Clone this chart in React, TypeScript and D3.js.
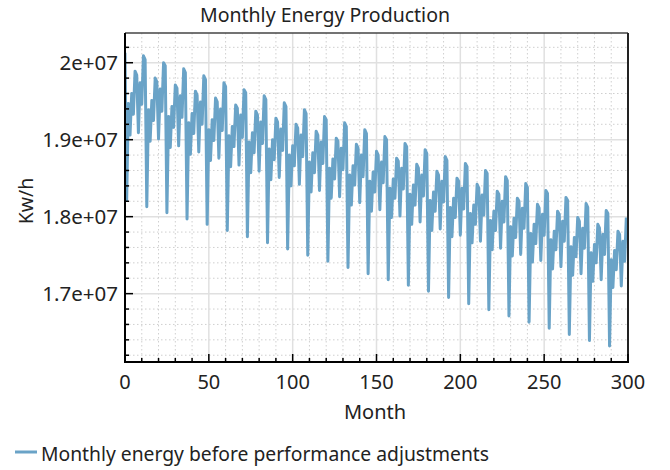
import React, { useEffect, useRef } from 'react';
import * as d3 from 'd3';

// monthly energy in millions of kWh, one row per year (Jan..Dec), 25 years
const energyMillions = [
  20.13, 18.21, 19.47, 19.06, 19.60, 19.33, 19.89, 19.84, 19.09, 19.74, 19.46, 20.09,
  20.04, 18.13, 19.39, 18.98, 19.51, 19.25, 19.80, 19.75, 19.01, 19.66, 19.37, 20.00,
  19.96, 18.05, 19.30, 18.90, 19.43, 19.16, 19.71, 19.67, 18.92, 19.57, 19.29, 19.92,
  19.87, 17.97, 19.22, 18.81, 19.34, 19.08, 19.63, 19.58, 18.84, 19.49, 19.20, 19.83,
  19.78, 17.90, 19.13, 18.73, 19.26, 18.99, 19.54, 19.49, 18.76, 19.40, 19.12, 19.74,
  19.69, 17.82, 19.05, 18.65, 19.17, 18.91, 19.45, 19.41, 18.67, 19.32, 19.03, 19.65,
  19.61, 17.74, 18.97, 18.57, 19.09, 18.83, 19.37, 19.32, 18.59, 19.23, 18.95, 19.57,
  19.52, 17.66, 18.88, 18.48, 19.00, 18.74, 19.28, 19.23, 18.51, 19.14, 18.86, 19.48,
  19.43, 17.58, 18.80, 18.40, 18.92, 18.66, 19.20, 19.15, 18.42, 19.06, 18.78, 19.39,
  19.34, 17.50, 18.71, 18.32, 18.83, 18.57, 19.11, 19.06, 18.34, 18.97, 18.69, 19.30,
  19.26, 17.42, 18.63, 18.24, 18.75, 18.49, 19.02, 18.98, 18.26, 18.89, 18.61, 19.22,
  19.17, 17.34, 18.54, 18.15, 18.66, 18.41, 18.94, 18.89, 18.18, 18.80, 18.52, 19.13,
  19.08, 17.26, 18.46, 18.07, 18.58, 18.32, 18.85, 18.80, 18.09, 18.71, 18.44, 19.04,
  19.00, 17.18, 18.37, 17.99, 18.49, 18.24, 18.76, 18.72, 18.01, 18.63, 18.36, 18.95,
  18.91, 17.11, 18.29, 17.90, 18.41, 18.15, 18.68, 18.63, 17.93, 18.54, 18.27, 18.87,
  18.82, 17.03, 18.21, 17.82, 18.32, 18.07, 18.59, 18.54, 17.84, 18.46, 18.19, 18.78,
  18.73, 16.95, 18.12, 17.74, 18.24, 17.99, 18.50, 18.46, 17.76, 18.37, 18.10, 18.69,
  18.65, 16.87, 18.04, 17.66, 18.15, 17.90, 18.42, 18.37, 17.68, 18.28, 18.02, 18.60,
  18.56, 16.79, 17.95, 17.57, 18.07, 17.82, 18.33, 18.29, 17.59, 18.20, 17.93, 18.52,
  18.47, 16.71, 17.87, 17.49, 17.98, 17.73, 18.24, 18.20, 17.51, 18.11, 17.85, 18.43,
  18.38, 16.63, 17.78, 17.41, 17.90, 17.65, 18.16, 18.11, 17.43, 18.03, 17.76, 18.34,
  18.30, 16.55, 17.70, 17.32, 17.81, 17.57, 18.07, 18.03, 17.35, 17.94, 17.68, 18.25,
  18.21, 16.47, 17.61, 17.24, 17.73, 17.48, 17.99, 17.94, 17.26, 17.85, 17.59, 18.17,
  18.12, 16.39, 17.53, 17.16, 17.64, 17.40, 17.90, 17.85, 17.18, 17.77, 17.51, 18.08,
  18.04, 16.32, 17.44, 17.08, 17.56, 17.31, 17.81, 17.77, 17.10, 17.68, 17.42, 17.99,
];

const xTicks = [0, 50, 100, 150, 200, 250, 300];
const yTicks = [1.7e7, 1.8e7, 1.9e7, 2e7];
const yTickLabels = ['1.7e+07', '1.8e+07', '1.9e+07', '2e+07'];

const title = 'Monthly Energy Production';
const xTitle = 'Month';
const yTitle = 'Kw/h';
const seriesName = 'Monthly energy before performance adjustments';

const App: React.FC = () => {
  const ref = useRef<SVGSVGElement | null>(null);

  useEffect(() => {
    if (!ref.current) return;
    const width = 670;
    const height = 470;
    const left = 125, right = 628, top = 33, bottom = 362;
    const font = "'Noto Sans', sans-serif";
    const textColor = '#222';
    const lineColor = '#6aa3c7';

    const svg = d3.select(ref.current);
    svg.selectAll('*').remove();
    svg.attr('width', width).attr('height', height);

    const data = energyMillions.map((v, i) => ({ month: i, value: v * 1e6 }));

    const x = d3.scaleLinear().domain([0, 300]).range([left, right]);
    const y = d3.scaleLinear().domain([16.112e6, 20.386e6]).range([bottom, top]);

    svg.append('rect')
      .attr('x', 0).attr('y', 0).attr('width', width).attr('height', height)
      .attr('fill', '#fff');

    // grid
    const grid = svg.append('g');
    const xMinor = d3.range(10, 300, 10).filter(v => v % 50 !== 0);
    const yMinor = d3.range(16.2e6, 20.3e6, 2e5).filter(v => Math.round(v / 1e5) % 10 !== 0);

    grid.selectAll('line.xm').data(xMinor).enter().append('line')
      .attr('x1', d => x(d)).attr('x2', d => x(d)).attr('y1', top).attr('y2', bottom)
      .attr('stroke', '#cfcfcf').attr('stroke-dasharray', '1.5,2.5');
    grid.selectAll('line.ym').data(yMinor).enter().append('line')
      .attr('x1', left).attr('x2', right).attr('y1', d => y(d)).attr('y2', d => y(d))
      .attr('stroke', '#cfcfcf').attr('stroke-dasharray', '1.5,2.5');
    grid.selectAll('line.xM').data(xTicks.slice(1, -1)).enter().append('line')
      .attr('x1', d => x(d)).attr('x2', d => x(d)).attr('y1', top).attr('y2', bottom)
      .attr('stroke', '#e0e0e0').attr('stroke-width', 1.5);
    grid.selectAll('line.yM').data(yTicks).enter().append('line')
      .attr('x1', left).attr('x2', right).attr('y1', d => y(d)).attr('y2', d => y(d))
      .attr('stroke', '#e0e0e0').attr('stroke-width', 1.5);

    // clip + line
    svg.append('clipPath').attr('id', 'plotClip')
      .append('rect').attr('x', left).attr('y', top)
      .attr('width', right - left).attr('height', bottom - top);

    const line = d3.line<{ month: number; value: number }>()
      .x(d => x(d.month))
      .y(d => y(d.value));

    svg.append('path')
      .datum(data)
      .attr('clip-path', 'url(#plotClip)')
      .attr('d', line)
      .attr('fill', 'none')
      .attr('stroke', lineColor)
      .attr('stroke-width', 3)
      .attr('stroke-linejoin', 'round');

    // frame
    svg.append('line').attr('x1', left).attr('x2', right).attr('y1', top).attr('y2', top)
      .attr('stroke', '#444').attr('stroke-width', 1.5);
    svg.append('line').attr('x1', right).attr('x2', right).attr('y1', top).attr('y2', bottom)
      .attr('stroke', '#222').attr('stroke-width', 2);
    svg.append('line').attr('x1', left).attr('x2', left).attr('y1', top).attr('y2', bottom + 1)
      .attr('stroke', '#000').attr('stroke-width', 2);
    svg.append('line').attr('x1', left - 1).attr('x2', right + 1).attr('y1', bottom).attr('y2', bottom)
      .attr('stroke', '#000').attr('stroke-width', 2);

    // ticks (inside)
    const ticks = svg.append('g').attr('stroke', '#000').attr('stroke-width', 1.5);
    ticks.selectAll('line.xt').data(d3.range(0, 301, 10)).enter().append('line')
      .attr('x1', d => x(d)).attr('x2', d => x(d))
      .attr('y1', bottom).attr('y2', d => bottom - (d % 50 === 0 ? 8 : 4));
    ticks.selectAll('line.yt').data(d3.range(16.2e6, 20.3e6, 2e5)).enter().append('line')
      .attr('y1', d => y(d)).attr('y2', d => y(d))
      .attr('x1', left).attr('x2', d => left + (Math.round(d / 1e5) % 10 === 0 ? 8 : 4));

    // tick labels
    svg.selectAll('text.xl').data(xTicks).enter().append('text')
      .attr('x', d => x(d)).attr('y', 389)
      .attr('text-anchor', 'middle')
      .style('font-family', font).style('font-size', '20px').style('fill', textColor)
      .text(d => String(d));
    svg.selectAll('text.yl').data(yTicks).enter().append('text')
      .attr('x', 118).attr('y', d => y(d) + 7.5)
      .attr('text-anchor', 'end')
      .style('font-family', font).style('font-size', '20.5px').style('fill', textColor)
      .text((d, i) => yTickLabels[i]);

    // titles
    svg.append('text').attr('x', 325).attr('y', 22).attr('text-anchor', 'middle')
      .style('font-family', font).style('font-size', '19.5px').style('fill', textColor)
      .text(title);
    svg.append('text').attr('x', 375).attr('y', 419).attr('text-anchor', 'middle')
      .style('font-family', font).style('font-size', '20px').style('fill', textColor)
      .text(xTitle);
    svg.append('text')
      .attr('transform', `translate(33, 201) rotate(-90)`)
      .attr('text-anchor', 'middle')
      .style('font-family', font).style('font-size', '19.5px').style('fill', textColor)
      .text(yTitle);

    // legend
    svg.append('line').attr('x1', 15).attr('x2', 37).attr('y1', 452).attr('y2', 452)
      .attr('stroke', lineColor).attr('stroke-width', 3);
    svg.append('text').attr('x', 41).attr('y', 461)
      .style('font-family', font).style('font-size', '19.3px').style('fill', textColor)
      .text(seriesName);
  }, []);

  return <svg ref={ref} style={{ position: 'absolute', left: 0, top: 0 }} />;
};

export default App;
